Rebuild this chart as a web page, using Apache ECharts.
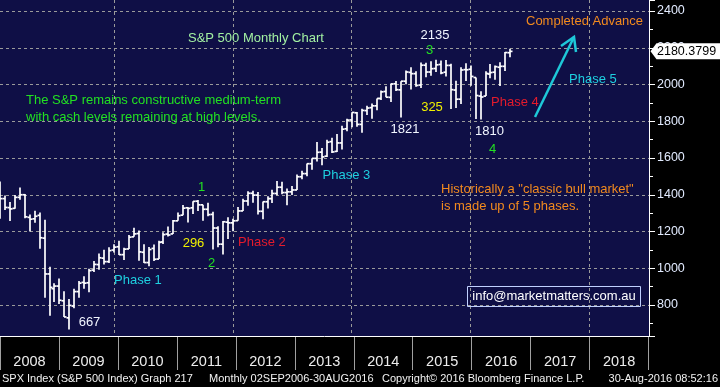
<!DOCTYPE html>
<html><head><meta charset="utf-8">
<script src="https://cdn.jsdelivr.net/npm/echarts@6/dist/echarts.min.js"></script>
<style>html,body{margin:0;padding:0;background:#000}#c{width:720px;height:387px}</style>
</head><body><div id="c"></div>
<script>
const months = [
'2008-01','2008-02','2008-03','2008-04','2008-05','2008-06','2008-07','2008-08','2008-09','2008-10','2008-11','2008-12',
'2009-01','2009-02','2009-03','2009-04','2009-05','2009-06','2009-07','2009-08','2009-09','2009-10','2009-11','2009-12',
'2010-01','2010-02','2010-03','2010-04','2010-05','2010-06','2010-07','2010-08','2010-09','2010-10','2010-11','2010-12',
'2011-01','2011-02','2011-03','2011-04','2011-05','2011-06','2011-07','2011-08','2011-09','2011-10','2011-11','2011-12',
'2012-01','2012-02','2012-03','2012-04','2012-05','2012-06','2012-07','2012-08','2012-09','2012-10','2012-11','2012-12',
'2013-01','2013-02','2013-03','2013-04','2013-05','2013-06','2013-07','2013-08','2013-09','2013-10','2013-11','2013-12',
'2014-01','2014-02','2014-03','2014-04','2014-05','2014-06','2014-07','2014-08','2014-09','2014-10','2014-11','2014-12',
'2015-01','2015-02','2015-03','2015-04','2015-05','2015-06','2015-07','2015-08','2015-09','2015-10','2015-11','2015-12',
'2016-01','2016-02','2016-03','2016-04','2016-05','2016-06','2016-07','2016-08'];
const open = [
1468,1379,1330,1326,1386,1400,1277,1269,1288,1164,969,889,
903,823,730,794,873,923,921,990,1020,1055,1036,1099,
1117,1074,1105,1171,1189,1087,1031,1108,1050,1143,1186,1187,
1258,1289,1329,1329,1365,1345,1321,1293,1219,1131,1251,1247,
1259,1312,1366,1408,1398,1310,1362,1379,1407,1441,1412,1416,
1426,1498,1515,1569,1598,1632,1610,1689,1636,1682,1759,1807,
1846,1783,1858,1874,1884,1924,1962,1930,2004,1971,2018,2066,
2059,1997,2105,2068,2087,2109,2067,2104,1970,1920,2081,2083,
2038,1937,1937,2057,2067,2094,2099,2173];
const high = [
1472,1396,1360,1398,1440,1404,1292,1313,1303,1264,1008,919,
944,875,833,889,930,956,997,1039,1080,1101,1114,1130,
1150,1112,1181,1220,1205,1131,1116,1129,1149,1196,1227,1263,
1303,1344,1332,1365,1371,1345,1356,1307,1229,1257,1278,1269,
1333,1378,1419,1422,1415,1363,1392,1427,1475,1471,1434,1448,
1510,1531,1570,1598,1687,1654,1699,1710,1730,1775,1814,1849,
1851,1868,1884,1897,1924,1968,1991,2005,2019,2018,2076,2094,
2072,2120,2118,2126,2135,2130,2133,2113,2021,2094,2116,2104,
2038,1963,2072,2111,2103,2121,2177,2194];
const low = [
1270,1317,1257,1324,1373,1272,1200,1247,1106,840,741,816,
805,735,667,783,840,889,869,979,992,1020,1029,1086,
1072,1045,1105,1171,1041,1028,1011,1040,1050,1132,1173,1187,
1258,1289,1249,1295,1312,1258,1283,1102,1114,1075,1159,1202,
1259,1312,1340,1357,1292,1267,1325,1355,1397,1403,1343,1398,
1426,1485,1501,1536,1581,1560,1605,1627,1633,1646,1746,1768,
1770,1738,1834,1814,1860,1916,1931,1905,1964,1821,2001,1973,
1988,1981,2040,2048,2068,2056,2044,1867,1872,1894,2019,1993,
1812,1810,1937,2034,2026,1992,2074,2148];
const close = [
1379,1331,1323,1386,1400,1280,1267,1283,1166,969,896,903,
826,735,798,873,919,919,987,1021,1057,1036,1096,1115,
1074,1104,1169,1187,1089,1031,1102,1049,1141,1183,1181,1258,
1286,1327,1326,1364,1345,1321,1292,1219,1131,1253,1247,1258,
1312,1366,1408,1398,1310,1362,1379,1407,1441,1412,1416,1426,
1498,1515,1569,1598,1631,1606,1686,1633,1682,1757,1806,1848,
1783,1859,1872,1884,1924,1960,1931,2003,1972,2018,2068,2059,
1995,2105,2068,2086,2107,2063,2104,1972,1920,2079,2080,2044,
1940,1932,2060,2065,2097,2099,2174,2180.3799];
const years = ['2008','2009','2010','2011','2012','2013','2014','2015','2016','2017','2018'];
const baseYear = 2008;
const yMin = 631.3, yMax = 2459.9, yStep = 200;
const xMin = 1, xMax = 132, xGridStep = 24;

const FONT = "'Liberation Sans', Arial, sans-serif";
const NARROW = "'Liberation Sans Narrow', 'Liberation Sans', Arial, sans-serif";

// end-of-month position in months since Jan 2008
const ohlc = months.map((s, i) => {
  const p = s.split('-');
  const m = (Number(p[0]) - baseYear) * 12 + Number(p[1]);
  return [m, open[i], high[i], low[i], close[i]];
});
const lastClose = close[close.length - 1];

const chart = echarts.init(document.getElementById('c'), null, {renderer: 'canvas'});

function txt(x, y, text, color, opts) {
  opts = opts || {};
  return {
    type: 'text', x: x, y: y, silent: true, z: 50,
    style: {
      text: text, fill: color,
      font: (opts.size || 13) + 'px ' + (opts.family || FONT),
      textAlign: opts.align || 'left', textVerticalAlign: 'middle'
    }
  };
}

const option = {
  backgroundColor: '#000',
  animation: false,
  grid: [
    {left: 0, right: 71, top: 0, bottom: 51, show: true, backgroundColor: '#0f0f46', borderWidth: 0},
    {left: -5.1, right: 71.4, top: 337, height: 33, show: false}
  ],
  xAxis: [
    {
      type: 'value', gridIndex: 0, min: xMin, max: xMax,
      minInterval: xGridStep, maxInterval: xGridStep,
      axisLine: {show: true, onZero: false, lineStyle: {color: '#ffffff', width: 1}},
      axisTick: {show: false}, axisLabel: {show: false},
      splitLine: {show: true, showMinLine: false, showMaxLine: false,
        lineStyle: {color: '#9a9a9a', type: [3, 3], width: 1}}
    },
    {
      type: 'category', gridIndex: 1, data: years, boundaryGap: true,
      axisLine: {show: false}, axisTick: {show: false},
      axisLabel: {show: true, inside: true, margin: 8, verticalAlign: 'middle', interval: 0,
        color: '#ececec', fontFamily: NARROW, fontSize: 14.5},
      splitLine: {show: true, interval: 0, lineStyle: {color: '#a0a0a0', width: 1}}
    }
  ],
  yAxis: [
    {
      type: 'value', gridIndex: 0, position: 'right', min: yMin, max: yMax,
      minInterval: yStep, maxInterval: yStep,
      axisLine: {show: true, lineStyle: {color: '#ffffff', width: 1}},
      axisTick: {show: true, length: 6, lineStyle: {color: '#ffffff', width: 1}},
      minorTick: {show: true, splitNumber: 2, length: 4, lineStyle: {color: '#ffffff', width: 1}},
      axisLabel: {show: true, showMinLabel: false, showMaxLabel: false, margin: 8,
        formatter: function (v) { return String(v); },
        color: '#e2ebff', fontFamily: FONT, fontSize: 12.5},
      splitLine: {show: true, showMinLine: false, showMaxLine: false,
        lineStyle: {color: '#9a9a9a', type: [3, 3], width: 1}}
    },
    {type: 'value', gridIndex: 1, show: false, min: 0, max: 1}
  ],
  series: [
    {
      type: 'custom', xAxisIndex: 0, yAxisIndex: 0, data: ohlc, clip: true,
      encode: {x: 0, y: [1, 2, 3, 4]},
      renderItem: function (params, api) {
        const x = api.value(0);
        const pO = api.coord([x, api.value(1)]);
        const pH = api.coord([x, api.value(2)]);
        const pL = api.coord([x, api.value(3)]);
        const pC = api.coord([x, api.value(4)]);
        const cx = Math.round(pH[0]);
        const t = 2.5;
        const st = {stroke: '#ffffff', lineWidth: 1.7};
        return {type: 'group', children: [
          {type: 'line', shape: {x1: cx, y1: pH[1], x2: cx, y2: pL[1]}, style: st},
          {type: 'line', shape: {x1: cx - t, y1: pO[1], x2: cx, y2: pO[1]}, style: st},
          {type: 'line', shape: {x1: cx, y1: pC[1], x2: cx + t, y2: pC[1]}, style: st}
        ]};
      }
    },
    {type: 'line', xAxisIndex: 1, yAxisIndex: 1, data: [], silent: true}
  ],
  graphic: [
    txt(188, 38.5, 'S&P 500 Monthly Chart', '#a2f0a2', {size: 13}),
    txt(26, 100.5, 'The S&P remains constructive medium-term', '#22e022', {size: 13}),
    txt(26, 117, 'with cash levels remaining at high levels.', '#22e022', {size: 13}),
    txt(435, 35, '2135', '#f2f6ff', {align: 'center'}),
    txt(429.5, 50, '3', '#22e022', {align: 'center'}),
    txt(432, 107, '325', '#f0f000', {align: 'center'}),
    txt(405, 129, '1821', '#f2f6ff', {align: 'center'}),
    txt(489.5, 131.5, '1810', '#f2f6ff', {align: 'center'}),
    txt(492.5, 149, '4', '#22e022', {align: 'center'}),
    txt(491, 102.5, 'Phase 4', '#e41b2c'),
    txt(526, 21.5, 'Completed Advance', '#f28a1e'),
    txt(569, 79.5, 'Phase 5', '#1ed0e0'),
    txt(322.5, 175.5, 'Phase 3', '#1ed0e0'),
    txt(201.5, 187, '1', '#22e022', {align: 'center'}),
    txt(193.5, 243.5, '296', '#f0f000', {align: 'center'}),
    txt(211.5, 263.5, '2', '#22e022', {align: 'center'}),
    txt(238, 242.5, 'Phase 2', '#e41b2c'),
    txt(114, 280.5, 'Phase 1', '#1ed0e0'),
    txt(89.5, 322, '667', '#f2f6ff', {align: 'center'}),
    txt(441, 189, 'Historically a "classic bull market"', '#f28a1e'),
    txt(441, 206, 'is made up of 5 phases.', '#f28a1e'),
    {type: 'rect', z: 49, silent: true, shape: {x: 467.5, y: 286.5, width: 173, height: 20},
      style: {fill: 'none', stroke: '#c0d0ff', lineWidth: 1}},
    txt(554, 296.5, 'info@marketmatters.com.au', '#ffffff', {align: 'center'}),
    {type: 'polyline', z: 50, silent: true, shape: {points: [[535, 117], [574, 37]]},
      style: {stroke: '#1ec8d8', lineWidth: 2.5, fill: null}},
    {type: 'polyline', z: 50, silent: true, shape: {points: [[561, 46], [574, 37], [576, 52]]},
      style: {stroke: '#1ec8d8', lineWidth: 2.5, fill: null}},
    txt(2, 379, 'SPX Index (S&P 500 Index) Graph 217', '#f2f2f2', {size: 11}),
    txt(209, 379, 'Monthly 02SEP2006-30AUG2016', '#f2f2f2', {size: 11}),
    txt(382, 379, 'Copyright\u00a9 2016 Bloomberg Finance L.P.', '#f2f2f2', {size: 11}),
    txt(718, 379, '30-Aug-2016 08:52:16', '#f2f2f2', {size: 11, align: 'right'})
  ]
};
chart.setOption(option);

// last-price tag on the right axis, positioned through the axis scale
const tip = chart.convertToPixel({gridIndex: 0}, [xMax, lastClose]);
const tx = tip[0], ty = tip[1];
chart.setOption({graphic: option.graphic.concat([
  {type: 'polygon', z: 60, silent: true,
    shape: {points: [[tx + 1.5, ty], [tx + 7.5, ty - 8], [tx + 72, ty - 8], [tx + 72, ty + 8], [tx + 7.5, ty + 8]]},
    style: {fill: '#ffffff'}},
  {type: 'text', z: 61, silent: true, x: tx + 8, y: ty + 0.5,
    style: {text: lastClose.toFixed(4), fill: '#000000', font: '12.5px ' + FONT,
      textAlign: 'left', textVerticalAlign: 'middle'}}
])});
</script></body></html>
